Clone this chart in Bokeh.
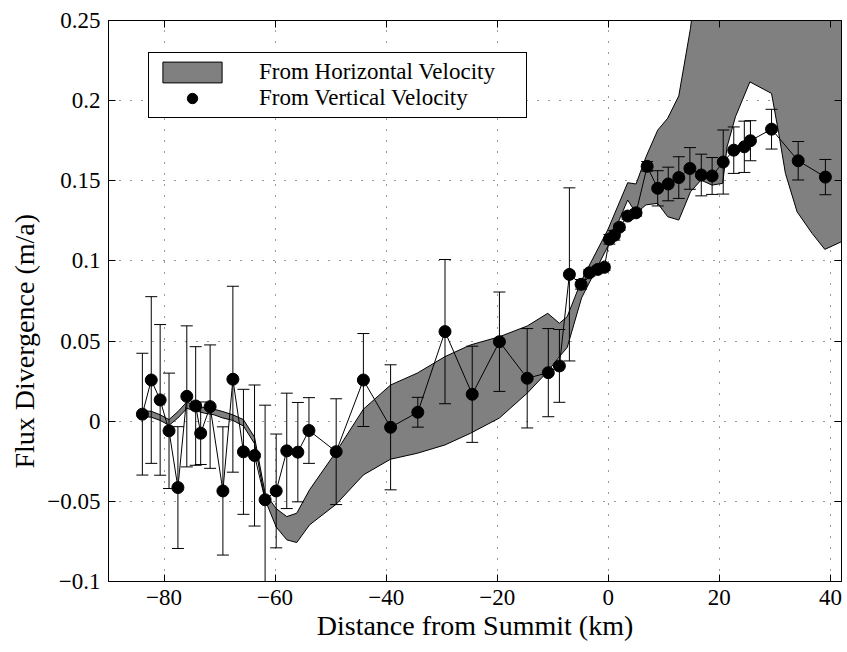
from bokeh.plotting import figure
from bokeh.models import (ColumnDataSource, Whisker, TeeHead, Legend, LegendItem,
                          LinearAxis, FixedTicker, Range1d, Title, CustomLabelingPolicy)
from bokeh.embed import file_html
from bokeh.resources import INLINE

# ---- data: flux divergence from vertical velocity (points with error bars)
dist_km = [-83.9, -82.3, -80.7, -79.1, -77.5, -75.9, -74.3, -73.4, -71.7, -69.4,
           -67.6, -65.7, -63.7, -61.8, -59.8, -57.9, -55.9, -53.9, -49.0, -44.1,
           -39.2, -34.3, -29.4, -24.5, -19.6, -14.6, -10.8, -8.8, -7.0, -4.9,
           -3.4, -1.9, -0.7, 0.2, 1.1, 2.0, 3.5, 5.0, 7.0, 8.9,
           10.8, 12.7, 14.7, 16.75, 18.7, 20.7, 22.6, 24.5, 25.6, 29.4,
           34.2, 39.1]
flux_div = [0.0044, 0.0257, 0.0133, -0.006, -0.0414, 0.0155, 0.0095, -0.0075, 0.0091, -0.0435,
            0.0262, -0.0191, -0.0214, -0.049, -0.0435, -0.0185, -0.0193, -0.0058, -0.019, 0.0257,
            -0.0038, 0.0056, 0.0559, 0.0168, 0.0496, 0.0268, 0.0303, 0.0345, 0.0916, 0.0854,
            0.0926, 0.0947, 0.096, 0.1135, 0.116, 0.121, 0.128, 0.130, 0.159, 0.1453,
            0.148, 0.152, 0.1577, 0.1536, 0.153, 0.1617, 0.1691, 0.1712, 0.175, 0.1822,
            0.1625, 0.1523]
flux_err = [0.038, 0.052, 0.047, 0.036, 0.038, 0.044, 0.037, 0.0195, 0.0385, 0.040,
            0.058, 0.039, 0.044, 0.059, 0.0355, 0.036, 0.031, 0.0205, 0.033, 0.029,
            0.039, 0.0093, 0.045, 0.030, 0.031, 0.031, 0.0275, 0.0227, 0.054, 0.003,
            0.002, 0.002, 0.002, 0.003, 0.003, 0.002, 0.002, 0.002, 0.003, 0.011,
            0.0105, 0.013, 0.013, 0.013, 0.0115, 0.02, 0.0145, 0.016, 0.0125, 0.0124,
            0.012, 0.011]

# ---- data: flux divergence range from horizontal velocity (shaded band)
band_km = [-84.0, -82.3, -80.7, -79.1, -77.5, -75.9, -74.3, -72.7, -71.0, -69.4,
           -67.6, -65.7, -63.7, -61.8, -59.8, -57.9, -56.1, -53.8, -49.0, -44.1,
           -39.2, -34.4, -29.4, -24.8, -19.6, -14.6, -10.9, -8.8, -7.4, -4.8,
           -0.1, 3.5, 5.0, 6.8, 8.9, 10.7, 12.7, 13.6, 14.8, 16.7,
           18.7, 20.6, 21.4, 22.9, 25.5, 29.4, 30.7, 31.9, 34.0, 36.7,
           39.0, 42.0]
band_upper = [0.0065, 0.0062, 0.004, 0.001, 0.006, 0.012, 0.0095, 0.0085, 0.0075, 0.006,
              0.004, 0.001, -0.010, -0.045, -0.0545, -0.0595, -0.0574, -0.0428, -0.019, 0.0075,
              0.0226, 0.030, 0.0403, 0.0476, 0.0527, 0.0594, 0.0673, 0.0611, 0.0652, 0.088,
              0.1193, 0.1488, 0.148, 0.165, 0.1816, 0.189, 0.203, 0.221, 0.245, 0.30,
              0.30, 0.30, 0.30, 0.30, 0.30, 0.30, 0.30, 0.30, 0.30, 0.30,
              0.30, 0.30]
band_lower = [0.003, 0.0025, 0.0005, -0.0025, 0.002, 0.008, 0.0065, 0.005, 0.004, 0.002,
              0.0005, -0.003, -0.014, -0.049, -0.066, -0.074, -0.0757, -0.0647, -0.0518, -0.0335,
              -0.0237, -0.020, -0.0148, -0.0075, 0.002, 0.0175, 0.031, 0.0403, 0.046, 0.077,
              0.1089, 0.138, 0.1297, 0.135, 0.1359, 0.1276, 0.1255, 0.133, 0.1431, 0.1504,
              0.1473, 0.1484, 0.1712, 0.1899, 0.2117, 0.2045, 0.1795, 0.1546, 0.1307, 0.1172,
              0.1072, 0.112]

x_ticks = [-80, -60, -40, -20, 0, 20, 40]
x_tick_labels = ["\u221280", "\u221260", "\u221240", "\u221220", "0", "20", "40"]
y_ticks = [-0.1, -0.05, 0, 0.05, 0.1, 0.15, 0.2, 0.25]
y_tick_labels = ["\u22120.1", "\u22120.05", "0", "0.05", "0.1", "0.15", "0.2", "0.25"]

FONT = "Liberation Serif"

p = figure(width=847, height=652, x_range=Range1d(-90, 42), y_range=Range1d(-0.1, 0.25),
           output_backend="svg", toolbar_location=None,
           min_border_left=108, min_border_right=4, min_border_top=20, min_border_bottom=71,
           x_axis_label="Distance from Summit (km)")
p.outline_line_color = "black"
p.outline_line_width = 1
p.background_fill_color = "white"
p.border_fill_color = "white"

# axes
for ax, ticks, labels in ((p.xaxis[0], x_ticks, x_tick_labels), (p.yaxis[0], y_ticks, y_tick_labels)):
    ax.ticker = FixedTicker(ticks=ticks)
    ax.major_label_overrides = {t: l for t, l in zip(ticks, labels)}
    ax.major_tick_in = 7
    ax.major_tick_out = 0
    ax.minor_tick_line_color = None
    ax.axis_line_color = "black"
    ax.major_tick_line_color = "black"
    ax.major_label_text_font = FONT
    ax.major_label_text_font_size = "23px"
    ax.major_label_text_color = "black"
    ax.axis_label_text_font = FONT
    ax.axis_label_text_font_size = "28px"
    ax.axis_label_text_font_style = "normal"
    ax.axis_label_text_color = "black"
    ax.major_label_standoff = 8
p.xaxis[0].axis_label_standoff = 2

# y axis title (placed like the reference: starts lower than the frame centre)
ytitle = Title(text="Flux Divergence (m/a)", align="left", offset=113, standoff=10,
               text_font=FONT, text_font_size="28px", text_font_style="normal",
               text_color="black")
p.add_layout(ytitle, "left")

# box axes on top and right: inward ticks only
hide_all = CustomLabelingPolicy(code="""
    for (const i of Array.from(indices)) { indices.unset(i) }
    return indices
""")
for loc, ticks in (("right", y_ticks), ("above", x_ticks)):
    ax = LinearAxis(ticker=FixedTicker(ticks=ticks), major_label_policy=hide_all)
    ax.major_label_text_font_size = "1px"
    ax.major_label_standoff = 0
    ax.major_tick_in = 7
    ax.major_tick_out = 0
    ax.minor_tick_line_color = None
    ax.axis_line_color = "black"
    ax.major_tick_line_color = "black"
    p.add_layout(ax, loc)

# grid
for g, ticks in ((p.xgrid[0], x_ticks), (p.ygrid[0], y_ticks)):
    g.ticker = FixedTicker(ticks=ticks)
    g.grid_line_color = "black"
    g.grid_line_dash = "1 10"
    g.grid_line_width = 1
    g.grid_line_alpha = 0.8

# band from horizontal velocity
band_x = band_km + band_km[::-1]
band_y = band_upper + band_lower[::-1]
band_r = p.patch(band_x, band_y, fill_color="#808080", line_color="black", line_width=1)

# points from vertical velocity
src = ColumnDataSource(dict(x=dist_km, y=flux_div,
                            upper=[v + e for v, e in zip(flux_div, flux_err)],
                            lower=[v - e for v, e in zip(flux_div, flux_err)]))
p.line("x", "y", source=src, line_color="black", line_width=1)
wh = Whisker(source=src, base="x", upper="upper", lower="lower", dimension="height",
             line_color="black", line_width=1, level="overlay",
             upper_head=TeeHead(size=12, line_color="black", line_width=1),
             lower_head=TeeHead(size=12, line_color="black", line_width=1))
p.add_layout(wh)
dots_r = p.scatter("x", "y", source=src, size=12, fill_color="black", line_color="black")

legend = Legend(items=[LegendItem(label="From Horizontal Velocity", renderers=[band_r]),
                       LegendItem(label="From Vertical Velocity", renderers=[dots_r])],
                location=(40, 463), glyph_width=74, glyph_height=26, spacing=0,
                padding=6, label_standoff=30, label_width=261, label_height=20, margin=0,
                label_text_font=FONT, label_text_font_size="23px", label_text_color="black",
                border_line_color="black", border_line_width=1, border_line_alpha=1,
                background_fill_color="white", background_fill_alpha=1)
p.add_layout(legend)

open("out.html", "w").write(file_html(p, INLINE))
